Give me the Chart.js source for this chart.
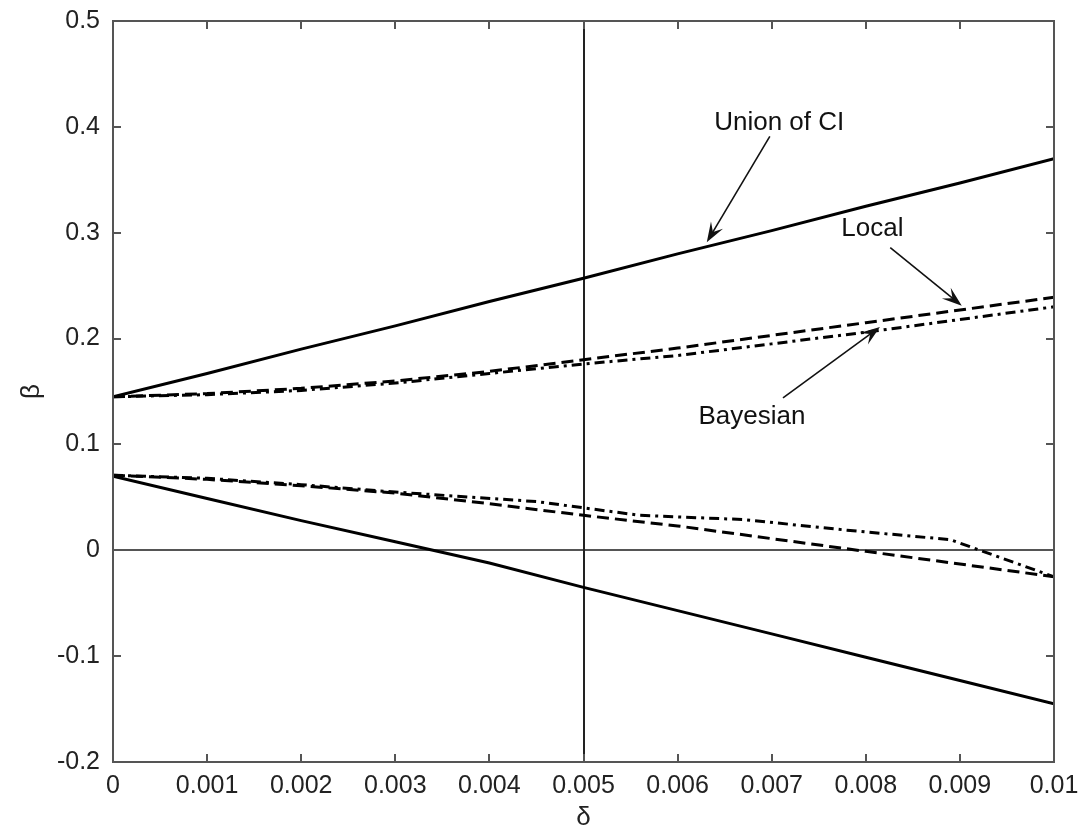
<!DOCTYPE html>
<html>
<head>
<meta charset="utf-8">
<script src="https://cdn.jsdelivr.net/npm/chart.js@4.4.1/dist/chart.umd.min.js"></script>
<style>
  body { margin: 0; background: #fff; }
  #wrap { width: 1086px; height: 833px; }
</style>
</head>
<body>
<div id="wrap"><canvas id="chartBeta"></canvas></div>
<script>
// delta grid shared by most curves
const delta = [0, 0.001, 0.002, 0.003, 0.004, 0.005, 0.006, 0.007, 0.008, 0.009, 0.01];

// Union of CI (solid)
const unionUpper = [0.145, 0.167, 0.190, 0.212, 0.235, 0.257, 0.280, 0.302, 0.325, 0.347, 0.370];
const unionLower = [0.070, 0.049, 0.028, 0.008, -0.012, -0.035, -0.057, -0.079, -0.101, -0.123, -0.145];

// Local (dashed)
const localUpper = [0.145, 0.148, 0.153, 0.160, 0.169, 0.180, 0.191, 0.203, 0.215, 0.227, 0.239];
const localLower = [0.071, 0.067, 0.061, 0.054, 0.044, 0.033, 0.023, 0.011, -0.001, -0.013, -0.025];

// Bayesian (dash-dot)
const bayesUpper = [0.145, 0.147, 0.151, 0.158, 0.167, 0.176, 0.184, 0.195, 0.206, 0.218, 0.230];
const bayesLowerDelta = [0, 0.001, 0.002, 0.003, 0.0045, 0.0056, 0.0067, 0.0078, 0.0089, 0.01];
const bayesLower = [0.071, 0.068, 0.062, 0.055, 0.046, 0.033, 0.029, 0.019, 0.010, -0.025];

const xTickLabels = ['0', '0.001', '0.002', '0.003', '0.004', '0.005', '0.006', '0.007', '0.008', '0.009', '0.01'];
const yTickLabels = ['-0.2', '-0.1', '0', '0.1', '0.2', '0.3', '0.4', '0.5'];

const refDelta = 0.005;
const refBeta = 0;

// text + arrow (from, to) in data units
const notes = [
    { text: 'Union of CI', at: [0.00708, 0.404], from: [0.00698, 0.391], to: [0.00631, 0.291] },
    { text: 'Local', at: [0.00807, 0.304], from: [0.00826, 0.286], to: [0.00902, 0.231] },
    { text: 'Bayesian', at: [0.00679, 0.126], from: [0.00712, 0.144], to: [0.00815, 0.211] }
];

const FONT = '"Liberation Sans", Arial, Helvetica, sans-serif';

function pts(xs, ys) {
    return xs.map((x, i) => ({ x: x, y: ys[i] }));
}

function series(label, xs, ys, dash) {
    return {
        label: label,
        data: pts(xs, ys),
        borderColor: '#000',
        borderWidth: 3,
        borderDash: dash,
        pointRadius: 0,
        fill: false,
        tension: 0
    };
}

const framePlugin = {
    id: 'frame',
    beforeDatasetsDraw(chart) {
        const { ctx, chartArea: a, scales: { x, y } } = chart;
        ctx.save();
        // reference lines
        ctx.lineWidth = 2;
        ctx.strokeStyle = '#555';
        const y0 = Math.round(y.getPixelForValue(refBeta));
        ctx.beginPath(); ctx.moveTo(a.left, y0); ctx.lineTo(a.right, y0); ctx.stroke();
        ctx.strokeStyle = '#222';
        const x0 = Math.round(x.getPixelForValue(refDelta));
        ctx.beginPath(); ctx.moveTo(x0, a.top); ctx.lineTo(x0, a.bottom); ctx.stroke();
        ctx.restore();
    },
    afterDraw(chart) {
        const { ctx, chartArea: a, scales: { x, y } } = chart;
        ctx.save();
        ctx.strokeStyle = '#555';
        ctx.lineWidth = 2;
        ctx.strokeRect(a.left, a.top, a.right - a.left, a.bottom - a.top);
        const tl = 8;
        ctx.beginPath();
        x.ticks.forEach(t => {
            const px = Math.round(x.getPixelForValue(t.value));
            ctx.moveTo(px, a.bottom); ctx.lineTo(px, a.bottom - tl);
            ctx.moveTo(px, a.top); ctx.lineTo(px, a.top + tl);
        });
        y.ticks.forEach(t => {
            const py = Math.round(y.getPixelForValue(t.value));
            ctx.moveTo(a.left, py); ctx.lineTo(a.left + tl, py);
            ctx.moveTo(a.right, py); ctx.lineTo(a.right - tl, py);
        });
        ctx.stroke();

        // annotations
        ctx.fillStyle = '#111';
        ctx.strokeStyle = '#111';
        ctx.font = '26px ' + FONT;
        ctx.textAlign = 'center';
        ctx.textBaseline = 'middle';
        notes.forEach(n => {
            ctx.fillText(n.text, x.getPixelForValue(n.at[0]), y.getPixelForValue(n.at[1]));
            const x1 = x.getPixelForValue(n.from[0]), y1 = y.getPixelForValue(n.from[1]);
            const x2 = x.getPixelForValue(n.to[0]), y2 = y.getPixelForValue(n.to[1]);
            const ang = Math.atan2(y2 - y1, x2 - x1);
            const c = Math.cos(ang), s = Math.sin(ang);
            const len = 20, w = 7;
            ctx.lineWidth = 1.6;
            ctx.beginPath(); ctx.moveTo(x1, y1); ctx.lineTo(x2 - c * 10, y2 - s * 10); ctx.stroke();
            ctx.beginPath();
            ctx.moveTo(x2, y2);
            ctx.lineTo(x2 - len * c + w * s, y2 - len * s - w * c);
            ctx.lineTo(x2 - 12 * c, y2 - 12 * s);
            ctx.lineTo(x2 - len * c - w * s, y2 - len * s + w * c);
            ctx.closePath();
            ctx.fill();
        });
        ctx.restore();
    }
};

new Chart(document.getElementById('chartBeta').getContext('2d'), {
    type: 'line',
    data: {
        datasets: [
            series('Union of CI upper', delta, unionUpper, []),
            series('Union of CI lower', delta, unionLower, []),
            series('Local upper', delta, localUpper, [12, 6]),
            series('Local lower', delta, localLower, [12, 6]),
            series('Bayesian upper', delta, bayesUpper, [10, 5, 3, 5]),
            series('Bayesian lower', bayesLowerDelta, bayesLower, [10, 5, 3, 5])
        ]
    },
    options: {
        responsive: true,
        maintainAspectRatio: false,
        animation: false,
        layout: { padding: { top: 21, right: 32, left: 0, bottom: 0 } },
        scales: {
            x: {
                type: 'linear',
                min: 0,
                max: 0.01,
                grid: { display: false, drawTicks: false },
                border: { display: false },
                ticks: {
                    stepSize: 0.001,
                    maxRotation: 0,
                    autoSkip: false,
                    padding: 9,
                    color: '#222',
                    font: { family: FONT, size: 25 },
                    callback: (v, i) => xTickLabels[i]
                },
                title: {
                    display: true,
                    text: 'δ',
                    color: '#222',
                    font: { family: FONT, size: 26, lineHeight: 1 },
                    padding: { top: 0, bottom: 2 }
                },
                afterFit: s => { s.height = 71; s.paddingRight = 0; }
            },
            y: {
                min: -0.2,
                max: 0.5,
                grid: { display: false, drawTicks: false },
                border: { display: false },
                ticks: {
                    stepSize: 0.1,
                    padding: 13,
                    color: '#222',
                    font: { family: FONT, size: 25 },
                    callback: (v, i) => yTickLabels[i]
                },
                title: {
                    display: true,
                    text: 'β',
                    color: '#222',
                    font: { family: FONT, size: 26, lineHeight: 1 },
                    padding: { top: 19, bottom: 0 }
                },
                afterFit: s => { s.width = 113; s.paddingTop = 0; s.paddingBottom = 0; }
            }
        },
        plugins: {
            legend: { display: false },
            tooltip: { enabled: false }
        }
    },
    plugins: [framePlugin]
});
</script>
</body>
</html>
